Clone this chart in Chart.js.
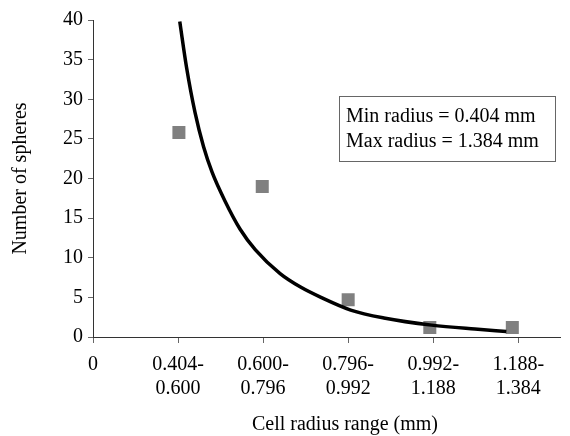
<!DOCTYPE html>
<html>
<head>
<meta charset="utf-8">
<script src="https://cdn.jsdelivr.net/npm/chart.js@4"></script>
<style>
  body { margin: 0; background: #fff; }
  #wrap { width: 570px; height: 436px; }
</style>
</head>
<body>
<div id="wrap"><canvas id="myChart" width="570" height="436"></canvas></div>
<script>
// category labels under the x ticks (0..5)
var tickLabels = ['0', ['0.404-', '0.600'], ['0.600-', '0.796'], ['0.796-', '0.992'], ['0.992-', '1.188'], ['1.188-', '1.384']];

// measured counts (grey squares)
var pointX = [1.01, 1.99, 3.0, 3.96, 4.93];
var pointY = [25.8, 19.0, 4.7, 1.2, 1.2];

// fitted trend curve
var curveX = [1.02, 1.10, 1.20, 1.30, 1.40, 1.55, 1.73, 1.91, 2.20, 2.44, 2.68, 3.03, 3.42, 3.98, 4.49, 4.86];
var curveY = [39.8, 34.0, 28.3, 24.0, 20.8, 17.2, 13.6, 11.0, 8.0, 6.3, 5.0, 3.4, 2.4, 1.5, 1.0, 0.7];

var boxLines = ['Min radius = 0.404 mm', 'Max radius = 1.384 mm'];
var xTitle = 'Cell radius range (mm)';
var yTitle = 'Number of spheres';

var serif = 'Liberation Serif';

var pts = [];
for (let i = 0; i < pointX.length; i++) pts.push({x: pointX[i], y: pointY[i]});
var curve = [];
for (let i = 0; i < curveX.length; i++) curve.push({x: curveX[i], y: curveY[i]});

// text box + x title drawn on top
const extras = {
  id: 'extras',
  afterDraw(chart) {
    const ctx = chart.ctx;
    ctx.save();
    ctx.strokeStyle = '#666';
    ctx.lineWidth = 1;
    ctx.strokeRect(339.5, 96.5, 216, 65);
    ctx.fillStyle = '#000';
    ctx.font = '20px "' + serif + '"';
    ctx.textBaseline = 'middle';
    ctx.textAlign = 'left';
    ctx.fillText(boxLines[0], 346, 117);
    ctx.fillText(boxLines[1], 346, 142);
    ctx.textAlign = 'center';
    ctx.fillText(xTitle, 345, 425);
    ctx.restore();
  }
};

const config = {
  type: 'scatter',
  data: {
    datasets: [{
      label: 'trend',
      data: curve,
      showLine: true,
      borderColor: '#000',
      borderWidth: 3.5,
      pointRadius: 0,
      cubicInterpolationMode: 'monotone',
      order: 1
    }, {
      label: 'spheres',
      data: pts,
      pointStyle: 'rect',
      pointRadius: 9.2,
      backgroundColor: '#808080',
      borderColor: '#808080',
      borderWidth: 0,
      order: 2
    }]
  },
  options: {
    responsive: false,
    animation: false,
    layout: { padding: { top: 20, right: 0, bottom: 25, left: 9 } },
    plugins: { legend: { display: false }, tooltip: { enabled: false } },
    scales: {
      x: {
        type: 'linear',
        min: 0,
        max: 5.5,
        border: { color: '#333', width: 1 },
        grid: { drawOnChartArea: false, drawTicks: true, tickLength: 6, color: '#666' },
        ticks: {
          stepSize: 1,
          includeBounds: false,
          autoSkip: false,
          maxRotation: 0,
          padding: 10,
          color: '#000',
          font: { family: serif, size: 20, lineHeight: 1.2 },
          callback: function(v) { return Number.isInteger(v) ? tickLabels[v] : ''; }
        }
      },
      y: {
        min: 0,
        max: 40,
        border: { color: '#333', width: 1 },
        grid: { drawOnChartArea: false, drawTicks: true, tickLength: 5, color: '#666' },
        ticks: {
          stepSize: 5,
          padding: 5,
          color: '#000',
          font: { family: serif, size: 20 }
        },
        title: {
          display: true,
          text: yTitle,
          color: '#000',
          font: { family: serif, size: 20 },
          padding: { top: 0, bottom: 25 }
        }
      }
    }
  },
  plugins: [extras]
};

const myChart = new Chart(document.getElementById('myChart'), config);
</script>
</body>
</html>
